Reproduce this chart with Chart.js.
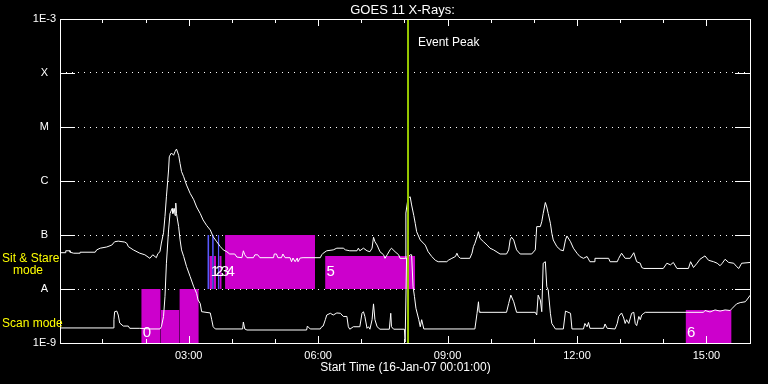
<!DOCTYPE html>
<html>
<head>
<meta charset="utf-8">
<style>
html,body{margin:0;padding:0;background:#000;}
canvas{display:block;}
</style>
<script src="https://cdn.jsdelivr.net/npm/chart.js@4"></script>
</head>
<body>
<canvas id="c" width="768" height="384"></canvas>
<script>
// ---- Data (time in minutes after 00:00 on 16-Jan-07, flux in W/m^2) ----
const hiTime = [2,9,9,15,15,20,29,29,50,52,57,66,73,77,82,91,94,96,103,112,119,126,130,135,137,140,142,145,147,149,152,153,154,156,159,161,163,166,168,170,173,177,182,187,191,196,200,205,210,214,219,224,228,233,237,244,247,254,256,258,261,270,272,276,279,298,299,302,304,309,311,314,321,323,325,328,331,332,335,339,363,365,367,372,381,386,395,398,404,414,416,418,423,428,432,435,437,439,442,446,451,453,456,460,462,467,472,474,481,482,485,488,490,493,495,497,502,509,513,518,523,527,539,541,546,551,553,555,558,571,574,576,578,581,583,585,590,595,599,604,613,622,625,627,629,632,636,641,657,662,664,669,671,673,676,678,680,683,685,687,692,697,701,704,706,711,715,720,724,729,734,738,745,745,764,766,776,778,782,787,794,799,803,808,810,813,840,845,850,854,859,875,878,882,887,891,898,903,910,915,919,922,926,931,938,942,945,949,961];
const hiFlux = [4.7e-8,4.7e-8,5.1e-8,5.1e-8,4.8e-8,4.6e-8,4.6e-8,4.8e-8,4.8e-8,5.3e-8,5.7e-8,6.0e-8,6.5e-8,7.5e-8,7.7e-8,7.4e-8,7.0e-8,6.1e-8,5.3e-8,4.6e-8,4.3e-8,3.7e-8,4.3e-8,3.8e-8,4.5e-8,4.9e-8,7.1e-8,1.1e-7,2.2e-7,5.1e-7,1.6e-6,2.8e-6,3.0e-6,3.3e-6,3.0e-6,3.5e-6,3.9e-6,3.0e-6,2.1e-6,1.5e-6,1.2e-6,8.4e-7,5.9e-7,4.5e-7,3.3e-7,2.5e-7,1.9e-7,1.5e-7,1.24e-7,9.3e-8,7.5e-8,6.1e-8,5.3e-8,4.9e-8,4.45e-8,4.45e-8,3.9e-8,3.8e-8,5.1e-8,4.3e-8,3.8e-8,3.8e-8,4.3e-8,4.3e-8,3.8e-8,3.8e-8,4.45e-8,4.45e-8,3.8e-8,3.8e-8,4.45e-8,3.8e-8,3.8e-8,3.2e-8,3.75e-8,3.2e-8,3.75e-8,3.2e-8,3.75e-8,3.8e-8,3.8e-8,4.3e-8,4.6e-8,5.1e-8,5.3e-8,5.7e-8,5.7e-8,5.3e-8,5.1e-8,5.1e-8,5.7e-8,5.1e-8,5.7e-8,5.1e-8,4.9e-8,5.7e-8,9.1e-8,7.5e-8,6.5e-8,4.9e-8,4.3e-8,3.7e-8,4.3e-8,5.3e-8,5.7e-8,4.9e-8,4.3e-8,3.7e-8,3.7e-8,2.55e-7,4.8e-7,5.1e-7,3.6e-7,2.3e-7,1.65e-7,1.15e-7,8.1e-8,6.5e-8,4.9e-8,4.0e-8,3.4e-8,3.2e-8,3.2e-8,3.4e-8,3.7e-8,4.0e-8,4.6e-8,4.0e-8,3.7e-8,3.7e-8,4.6e-8,6.1e-8,7.0e-8,9.3e-8,1.15e-7,8.7e-8,7.5e-8,6.5e-8,5.7e-8,5.3e-8,4.45e-8,4.45e-8,5.3e-8,8.1e-8,9.1e-8,8.1e-8,5.3e-8,4.45e-8,4.45e-8,5.3e-8,1.43e-7,1.43e-7,1.76e-7,2.5e-7,4.0e-7,3.3e-7,2.5e-7,1.65e-7,1.08e-7,8.1e-8,6.1e-8,5.3e-8,5.1e-8,8.1e-8,9.6e-8,7.5e-8,5.7e-8,4.6e-8,4.0e-8,3.7e-8,4.0e-8,3.2e-8,3.2e-8,3.7e-8,3.7e-8,3.2e-8,3.2e-8,3.7e-8,4.6e-8,3.7e-8,3.7e-8,4.7e-8,3.2e-8,3.0e-8,2.5e-8,2.4e-8,2.4e-8,3.0e-8,2.8e-8,3.1e-8,2.4e-8,2.4e-8,3.2e-8,2.5e-8,3.0e-8,3.55e-8,4.1e-8,3.4e-8,3.2e-8,3.0e-8,2.7e-8,3.0e-8,3.55e-8,3.1e-8,3.0e-8,2.6e-8,2.4e-8,3.0e-8,3.1e-8];

const loTime = [2,75,76,77,80,82,84,89,96,98,112,126,140,142,145,147,149,152,154,156,157,158,160,161,162,163,166,168,170,173,177,182,187,191,193,196,198,210,212,214,217,255,256,258,261,344,345,349,363,365,367,370,372,377,381,386,391,395,400,402,404,409,418,421,423,425,428,430,432,435,437,439,442,446,459,461,462,465,480,481,482,483,486,488,490,492,494,496,500,502,504,507,578,581,583,584,585,622,625,628,632,636,662,664,666,669,671,673,676,678,680,683,685,690,701,704,706,711,713,729,731,734,736,738,757,759,762,773,776,778,782,785,787,789,792,796,799,801,803,806,808,810,813,815,896,898,905,912,919,926,933,936,942,947,954,956,961];
const loFlux = [1.9e-9,1.9e-9,2.7e-9,3.8e-9,3.9e-9,3.3e-9,2.35e-9,2.06e-9,2.06e-9,1.87e-9,1.87e-9,1.82e-9,1.82e-9,2.0e-9,3.1e-9,7.2e-9,3.0e-8,1.24e-7,2.5e-7,2.9e-7,3.1e-7,2.5e-7,3.1e-7,2.3e-7,3.9e-7,2.5e-7,1.43e-7,8.1e-8,5.3e-8,4.0e-8,2.6e-8,1.7e-8,1.1e-8,8.3e-9,6.25e-9,5.4e-9,3.8e-9,3.6e-9,2.7e-9,2.0e-9,1.82e-9,1.82e-9,2.45e-9,1.82e-9,1.74e-9,1.74e-9,2.06e-9,1.82e-9,1.82e-9,2.0e-9,2.06e-9,2.7e-9,3.3e-9,3.55e-9,3.3e-9,3.6e-9,3.55e-9,3.1e-9,3.1e-9,2.0e-9,1.8e-9,2.0e-9,2.0e-9,3.55e-9,3.8e-9,3.1e-9,1.87e-9,2.0e-9,1.8e-9,2.7e-9,5.3e-9,2.7e-9,2.0e-9,1.8e-9,1.8e-9,3.55e-9,2.0e-9,1.8e-9,1.8e-9,1.04e-9,1.04e-9,3.75e-8,4.0e-8,4.3e-8,4.3e-8,1.1e-8,7.2e-9,4.4e-9,2.7e-9,2.0e-9,2.7e-9,1.82e-9,1.82e-9,3.55e-9,5.8e-9,3.8e-9,3.7e-9,3.7e-9,5.4e-9,7.7e-9,5.8e-9,3.7e-9,3.7e-9,3.3e-9,7.7e-9,6.25e-9,3.8e-9,3.0e-8,3.2e-8,1.1e-8,9.6e-9,3.55e-9,2.3e-9,1.82e-9,1.82e-9,3.9e-9,3.8e-9,3.55e-9,1.82e-9,1.82e-9,2.3e-9,2.0e-9,2.4e-9,1.87e-9,1.87e-9,2.25e-9,1.87e-9,1.82e-9,2.3e-9,3.1e-9,3.6e-9,2.9e-9,2.3e-9,2.7e-9,2.3e-9,3.55e-9,3.7e-9,2.3e-9,2.1e-9,3.1e-9,2.7e-9,3.3e-9,3.55e-9,3.7e-9,3.7e-9,4.0e-9,3.75e-9,4.1e-9,3.9e-9,4.1e-9,4.0e-9,4.4e-9,5.3e-9,5.6e-9,5.8e-9,6.25e-9,7.7e-9];

// Observation blocks (minutes) and their flux extents
const scanStart = [114, 141, 167, 871];
const scanEnd   = [141, 167, 194, 935];
const scanTop   = [1e-8, 4.1e-9, 1e-8, 4.1e-9];
const scanLabel = ['0', '', '', '6'];
const scanBottom = 1e-9;

const ssStart = [208.7, 214.9, 222.6, 230.6, 369.7];
const ssEnd   = [212.5, 218.0, 225.9, 355.8, 494.9];
const ssTop   = [4.1e-8, 4.1e-8, 4.1e-8, 1e-7, 4.1e-8];
const ssLabel = ['1', '2', '3', '4', '5'];
const ssBottom = 1e-8;

const markStart = [205.9, 212.5, 220.4];
const markEnd   = [208.7, 214.9, 222.6];
const markTop = 1e-7;

const eventPeakTime = 485;

const xMin = 1, xMax = 962;
const xTickValues = [60,120,180,240,300,360,420,480,540,600,660,720,780,840,900];
const xTickLabels = ['','','03:00','','','06:00','','','09:00','','','12:00','','','15:00'];
const yMin = 1e-9, yMax = 1e-3;
const yTickValues = [1e-9, 1e-8, 1e-7, 1e-6, 1e-5, 1e-4, 1e-3];
const yTickLabels = ['1E-9', 'A', 'B', 'C', 'M', 'X', '1E-3'];

const titleText = 'GOES 11 X-Rays:';
const xTitle = 'Start Time (16-Jan-07 00:01:00)';

// ---- Build datasets ----
const MAGENTA = '#cc00cc', BLUE = '#5a5aff', GREEN = 'rgb(150,200,0)';
function rect(x0, x1, top, bottom, color, order) {
  return {
    data: [{x: x0, y: top}, {x: x1, y: top}],
    borderWidth: 0, borderColor: 'rgba(0,0,0,0)', backgroundColor: color,
    fill: {value: bottom}, pointRadius: 0, order: order
  };
}
const datasets = [];
datasets.push({
  data: [{x: eventPeakTime, y: yMin}, {x: eventPeakTime, y: yMax}],
  borderColor: GREEN, borderWidth: 2, pointRadius: 0, fill: false, order: 0
});
datasets.push({
  data: hiTime.map((t, i) => ({x: t, y: hiFlux[i]})),
  borderColor: '#ffffff', borderWidth: 1, pointRadius: 0, fill: false, order: 1
});
datasets.push({
  data: loTime.map((t, i) => ({x: t, y: loFlux[i]})),
  borderColor: '#ffffff', borderWidth: 1, pointRadius: 0, fill: false, order: 1
});
markStart.forEach((s, i) => datasets.push(rect(s, markEnd[i], markTop, ssBottom, BLUE, 2)));
ssStart.forEach((s, i) => datasets.push(rect(s, ssEnd[i], ssTop[i], ssBottom, MAGENTA, 3)));
scanStart.forEach((s, i) => datasets.push(rect(s, scanEnd[i], scanTop[i], scanBottom, MAGENTA, 3)));

const FONT = '"Liberation Sans", Arial, sans-serif';
Chart.defaults.font.family = FONT;
Chart.defaults.color = '#ffffff';

const deco = {
  id: 'deco',
  beforeDraw(chart) {
    const c = chart.ctx;
    c.save(); c.fillStyle = '#000'; c.fillRect(0, 0, chart.width, chart.height); c.restore();
  },
  afterDatasetsDraw(chart) {
    const {ctx, chartArea: a, scales: {x, y}} = chart;
    ctx.save();
    ctx.strokeStyle = '#fff'; ctx.lineWidth = 1; ctx.setLineDash([]);
    ctx.strokeRect(a.left + 0.5, a.top + 0.5, a.right - a.left - 1, a.bottom - a.top);
    ctx.beginPath();
    yTickValues.forEach((v, i) => {
      if (i === 0 || i === yTickValues.length - 1) return;
      const py = Math.round(y.getPixelForValue(v)) + 0.5;
      ctx.moveTo(a.left, py); ctx.lineTo(a.left + 15, py);
      ctx.moveTo(a.right - 16, py); ctx.lineTo(a.right, py);
    });
    xTickValues.forEach((v, i) => {
      const px = Math.round(x.getPixelForValue(v)) + 0.5;
      const len = xTickLabels[i] ? 7 : 4;
      ctx.moveTo(px, a.bottom); ctx.lineTo(px, a.bottom - len);
      ctx.moveTo(px, a.top); ctx.lineTo(px, a.top + len);
    });
    ctx.stroke();

    // block labels
    ctx.fillStyle = '#fff'; ctx.textBaseline = 'middle'; ctx.textAlign = 'left';
    ctx.font = '15px ' + FONT;
    ssLabel.forEach((l, i) => {
      if (!l) return;
      ctx.fillText(l, x.getPixelForValue(ssStart[i]) + 1.5, y.getPixelForValue(ssBottom) - 17);
    });
    scanLabel.forEach((l, i) => {
      if (!l) return;
      ctx.fillText(l, x.getPixelForValue(scanStart[i]) + 1.5, y.getPixelForValue(scanBottom) - 10);
    });

    // title and event label
    ctx.font = '13px ' + FONT; ctx.textAlign = 'center';
    ctx.fillText(titleText, (a.left + a.right) / 2 - 3, 10);
    ctx.font = '12px ' + FONT; ctx.textAlign = 'left';
    ctx.fillText('Event Peak', x.getPixelForValue(eventPeakTime) + 10, a.top + 24);

    // mode labels
    ctx.fillStyle = '#ffff00'; ctx.font = '12px ' + FONT;
    ctx.fillText('Sit & Stare', 2, 258.5);
    ctx.fillText('mode', 13, 271);
    ctx.fillText('Scan mode', 2, 324);
    ctx.restore();
  }
};

new Chart(document.getElementById('c'), {
  type: 'line',
  data: {datasets},
  options: {
    responsive: false, animation: false, devicePixelRatio: 1,
    layout: {padding: {left: 0, right: 17, top: 19, bottom: 0}},
    plugins: {legend: {display: false}, tooltip: {enabled: false}, title: {display: false}},
    elements: {point: {radius: 0, hoverRadius: 0}, line: {tension: 0}},
    scales: {
      x: {
        type: 'linear', min: xMin, max: xMax,
        grid: {display: false, drawTicks: false}, border: {display: false},
        afterBuildTicks: s => { s.ticks = xTickValues.map(v => ({value: v})); },
        afterFit: s => { s.height = 41; },
        ticks: {autoSkip: false, maxRotation: 0, color: '#fff', font: {size: 11}, padding: 6,
                callback: (v, i) => xTickLabels[i]},
        title: {display: true, text: xTitle, color: '#fff', font: {size: 12}, padding: {top: 0, bottom: 9}}
      },
      y: {
        type: 'logarithmic', min: yMin, max: yMax,
        grid: {
          color: c => (c.index === 0 || c.index === yTickValues.length - 1) ? 'rgba(0,0,0,0)' : '#ffffff',
          drawTicks: false, lineWidth: 1
        },
        border: {display: false, dash: [1, 5]},
        afterBuildTicks: s => { s.ticks = yTickValues.map(v => ({value: v})); },
        afterFit: s => { s.width = 60; },
        ticks: {autoSkip: false, color: '#fff', font: {size: 11}, padding: 4, crossAlign: 'center',
                callback: (v, i) => yTickLabels[i]}
      }
    }
  },
  plugins: [deco]
});
</script>
</body>
</html>
